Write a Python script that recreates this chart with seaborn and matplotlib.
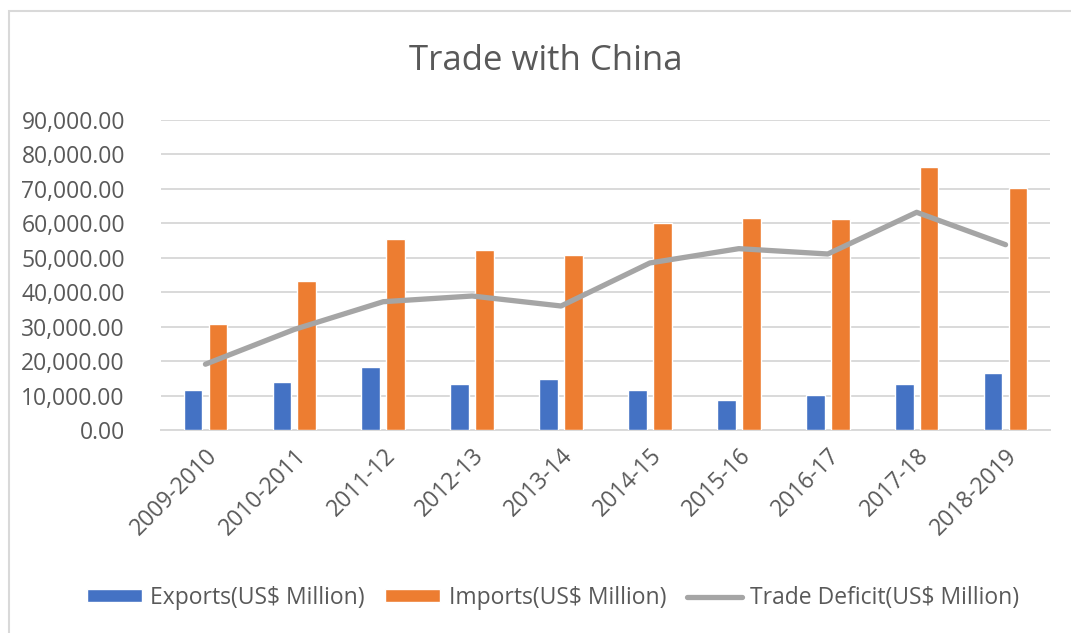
import numpy as np
import pandas as pd
import matplotlib
matplotlib.use("Agg")
import matplotlib.pyplot as plt
from matplotlib.patches import Rectangle
from matplotlib.ticker import FuncFormatter, MultipleLocator
import seaborn as sns

years = ["2009-2010", "2010-2011", "2011-12", "2012-13", "2013-14",
         "2014-15", "2015-16", "2016-17", "2017-18", "2018-2019"]
exports = [11600, 14050, 18200, 13250, 14900, 11700, 8800, 10050, 13250, 16550]
imports = [30700, 43250, 55450, 52150, 50900, 60200, 61450, 61150, 76450, 70350]
deficit = [19100, 29200, 37250, 38900, 36000, 48500, 52650, 51100, 63200, 53800]

export_label = "Exports(US$ Million)"
import_label = "Imports(US$ Million)"
deficit_label = "Trade Deficit(US$ Million)"

bars = pd.DataFrame({
    "year": years * 2,
    "value": exports + imports,
    "series": [export_label] * len(years) + [import_label] * len(years),
})

sns.set_theme(style="white")
plt.rcParams["font.family"] = ["Open Sans", "DejaVu Sans"]
text_color = "#595959"
grid_color = "#D9D9D9"
label_size = 16.5

fig = plt.figure(figsize=(10.71, 6.33), dpi=100)
fig.patch.set_facecolor("white")
fig.patches.append(Rectangle((9 / 1071, -0.05), 1.1, 1 - 11 / 633 + 0.05,
                             transform=fig.transFigure, fill=False,
                             edgecolor="#D9D9D9", linewidth=1.5, zorder=0))

ax = fig.add_axes([161 / 1071, 203 / 633, 889 / 1071, 310 / 633])

sns.barplot(data=bars, x="year", y="value", hue="series",
            palette=["#4472C4", "#ED7D31"], width=0.56, gap=0.25,
            saturation=1, ax=ax, zorder=3, legend=True)
sns.lineplot(x=np.arange(len(years)), y=deficit, ax=ax, color="#A5A5A5",
             linewidth=3.8, label=deficit_label, zorder=4,
             solid_capstyle="round", solid_joinstyle="round")

ax.set_xlim(-0.5, len(years) - 0.5)
ax.set_ylim(0, 90000)
ax.yaxis.set_major_locator(MultipleLocator(10000))
ax.yaxis.set_major_formatter(FuncFormatter(lambda v, p: f"{v:,.2f}"))
ax.grid(axis="y", color=grid_color, linewidth=1.4, zorder=0)
ax.set_axisbelow(True)
for side in ["top", "right", "left"]:
    ax.spines[side].set_visible(False)
ax.spines["bottom"].set_color(grid_color)
ax.spines["bottom"].set_linewidth(1.4)
ax.set_xlabel("")
ax.set_ylabel("")
ax.tick_params(axis="y", length=0, pad=26, labelsize=label_size, labelcolor=text_color)
ax.tick_params(axis="x", length=0, pad=10, labelsize=label_size, labelcolor=text_color)
ax.set_xticks(np.arange(len(years)))
ax.set_xticklabels(years, rotation=45, ha="right", rotation_mode="anchor")

fig.text(546 / 1071, 1 - 61 / 633, "Trade with China", ha="center", va="center",
         fontsize=25, color=text_color)

handles, labels = ax.get_legend_handles_labels()
if ax.legend_:
    ax.legend_.remove()
order = [labels.index(export_label), labels.index(import_label), labels.index(deficit_label)]
fig.legend([handles[i] for i in order], [labels[i] for i in order],
           loc="center", bbox_to_anchor=(553 / 1071, 1 - 598 / 633), ncol=3,
           frameon=False, fontsize=label_size, labelcolor=text_color,
           handlelength=2.4, handleheight=0.5, handletextpad=0.35,
           columnspacing=0.9)

fig.savefig("out.png", dpi=100, facecolor="white")
